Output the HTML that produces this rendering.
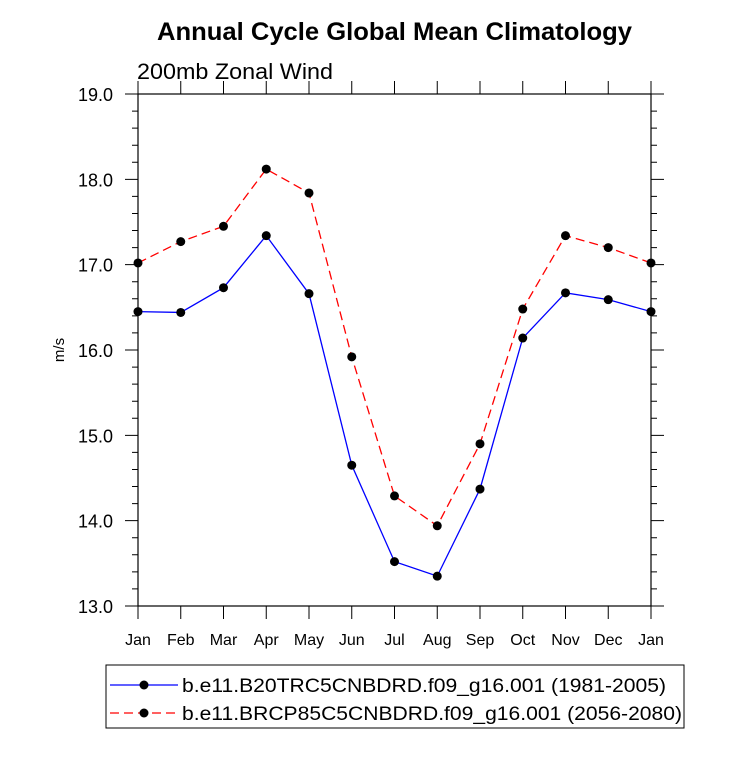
<!DOCTYPE html>
<html><head><meta charset="utf-8"><style>
body{margin:0;background:#fff}
svg text{font-family:"Liberation Sans",Arial,sans-serif}
</style></head><body>
<svg width="733" height="754" xmlns="http://www.w3.org/2000/svg" id="chart">
<text x="157" y="40" font-size="25" font-weight="bold" textLength="475" lengthAdjust="spacingAndGlyphs">Annual Cycle Global Mean Climatology</text>
<text x="137" y="79" font-size="22" textLength="196" lengthAdjust="spacingAndGlyphs">200mb Zonal Wind</text>
<text transform="translate(64,350) rotate(-90)" text-anchor="middle" font-size="15">m/s</text>
<g id="axes"></g>
<g id="series"></g>
<g id="legend">
<rect x="106" y="665" width="578" height="63" fill="none" stroke="#000" stroke-width="1"/>
<g>
<line x1="110" y1="685" x2="178" y2="685" stroke="#0000ff" stroke-width="1.3"/>
<circle cx="144" cy="685" r="4.5" fill="#000"/>
<text x="182" y="692" font-size="19.5" textLength="484" lengthAdjust="spacingAndGlyphs">b.e11.B20TRC5CNBDRD.f09_g16.001 (1981-2005)</text></g>
<g>
<line x1="110" y1="713" x2="178" y2="713" stroke="#ff0000" stroke-width="1.3" stroke-dasharray="9,5"/>
<circle cx="144" cy="713" r="4.5" fill="#000"/>
<text x="182" y="720" font-size="19.5" textLength="500" lengthAdjust="spacingAndGlyphs">b.e11.BRCP85C5CNBDRD.f09_g16.001 (2056-2080)</text></g>
</g>
</svg>
<script>
const months=["Jan","Feb","Mar","Apr","May","Jun","Jul","Aug","Sep","Oct","Nov","Dec","Jan"];
const histValues=[16.45,16.44,16.73,17.34,16.66,14.65,13.52,13.35,14.37,16.14,16.67,16.59,16.45];
const rcpValues=[17.02,17.27,17.45,18.12,17.84,15.92,14.29,13.94,14.90,16.48,17.34,17.20,17.02];
const yTicks=["13.0","14.0","15.0","16.0","17.0","18.0","19.0"];
const X0=138,X1=651,Y0=606,Y1=94,ymin=13,ymax=19;
const xs=i=>X0+(X1-X0)*i/(months.length-1);
const ys=v=>Y0-(v-ymin)/(ymax-ymin)*(Y0-Y1);
const NS="http://www.w3.org/2000/svg";
function mk(tag,attrs,parent){const e=document.createElementNS(NS,tag);for(const k in attrs)e.setAttribute(k,attrs[k]);parent.appendChild(e);return e;}
const ax=document.getElementById('axes');
const frame=mk('rect',{x:X0,y:Y1,width:X1-X0,height:Y0-Y1,fill:'none',stroke:'#000','stroke-width':1.2},ax);


let p='';
months.forEach((m,i)=>{const x=xs(i);p+=`M${x},${Y0}v13M${x},${Y1}v-13`;
const t=mk('text',{x:x,y:Y0+39,'text-anchor':'middle','font-size':16},ax);t.textContent=m;

});
for(let v=ymin;v<=ymax+1e-9;v+=0.2){const y=ys(v);const major=Math.abs(v-Math.round(v))<1e-6;const L=major?13:6;p+=`M${X0},${y}h-${L}M${X1},${y}h${L}`;}
yTicks.forEach(s=>{const t=mk('text',{x:X0-25,y:ys(parseFloat(s))+7,'text-anchor':'end','font-size':18},ax);t.textContent=s;

});
const tk=mk('path',{d:p,stroke:'#000','stroke-width':1,fill:'none'},ax);


const sg=document.getElementById('series');
function draw(vals,color,dash,name){
 const g=mk('g',{},sg);
 
 
 const pts=vals.map((v,i)=>xs(i)+','+ys(v)).join(' ');
 const a={points:pts,fill:'none',stroke:color,'stroke-width':1.3};if(dash)a['stroke-dasharray']=dash;
 mk('polyline',a,g);
 vals.forEach((v,i)=>{const c=mk('circle',{cx:xs(i),cy:ys(v),r:4.5,fill:'#000'},g);
 
 });
}
draw(histValues,'#0000ff',null,'series-historical');
draw(rcpValues,'#ff0000','9,5','series-rcp85');
</script>
</body></html>
